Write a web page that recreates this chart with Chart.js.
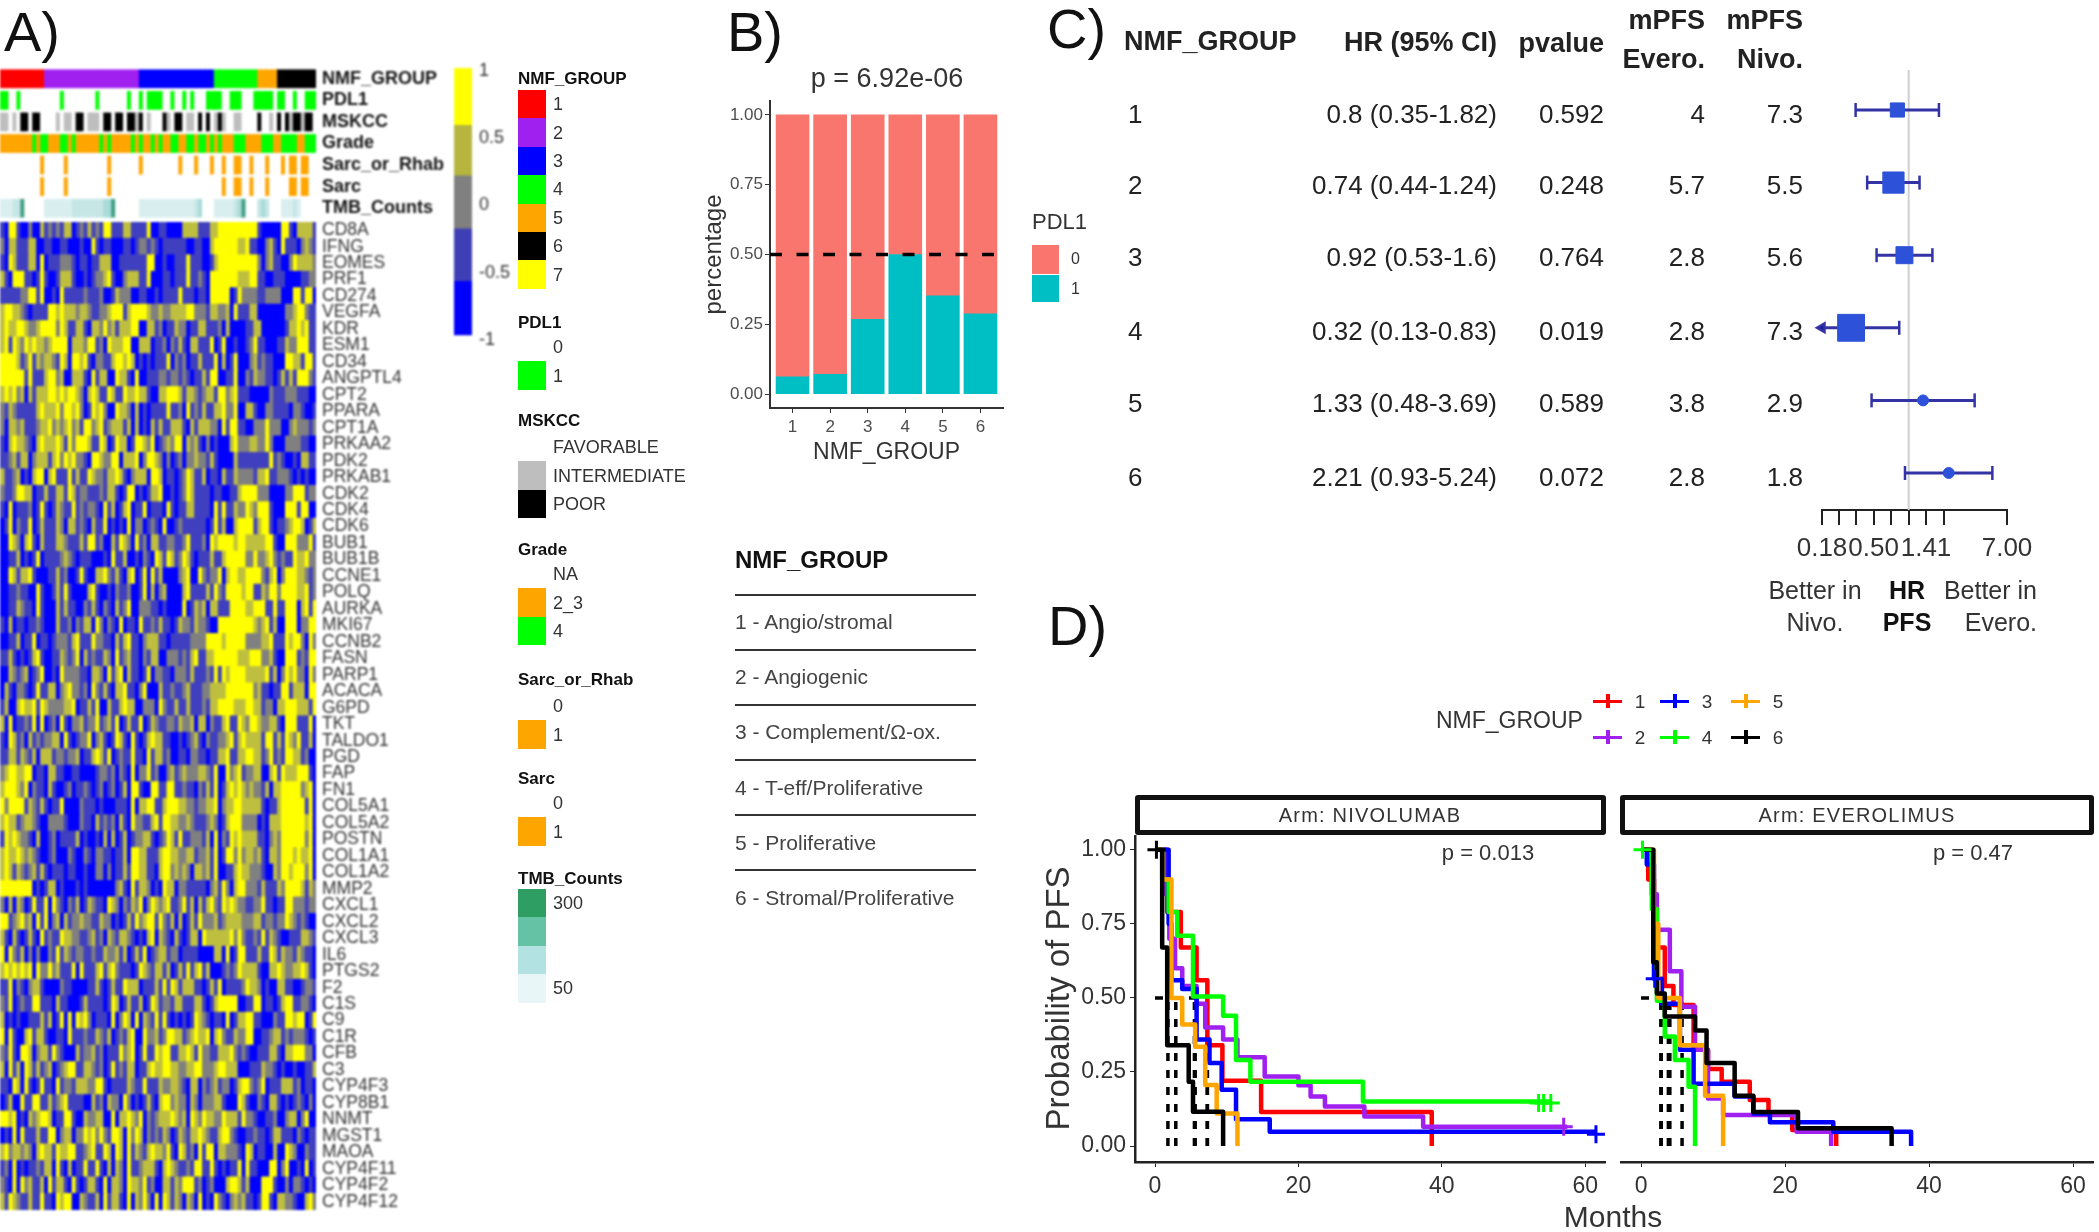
<!DOCTYPE html>
<html>
<head>
<meta charset="utf-8">
<title>NMF groups</title>
<script src="https://cdn.jsdelivr.net/npm/chart.js@4"></script>
<style>
  html, body { margin: 0; background: #fff; }
  #page { position: relative; width: 2099px; height: 1232px; overflow: hidden; font-family: "Liberation Sans", Arial, sans-serif; color: #222; filter: blur(0.6px); }
  #page canvas { position: absolute; }
  .t { position: absolute; white-space: nowrap; line-height: 1; }
  .box { position: absolute; }
  .blur { filter: blur(0.9px); }
</style>
</head>
<body>
<div id="page"></div>
<script>
// -------- PANEL A DATA --------
const genes = ["CD8A","IFNG","EOMES","PRF1","CD274","VEGFA","KDR","ESM1","CD34","ANGPTL4","CPT2","PPARA","CPT1A","PRKAA2","PDK2","PRKAB1","CDK2","CDK4","CDK6","BUB1","BUB1B","CCNE1","POLQ","AURKA","MKI67","CCNB2","FASN","PARP1","ACACA","G6PD","TKT","TALDO1","PGD","FAP","FN1","COL5A1","COL5A2","POSTN","COL1A1","COL1A2","MMP2","CXCL1","CXCL2","CXCL3","IL6","PTGS2","F2","C1S","C9","C1R","CFB","C3","CYP4F3","CYP8B1","NNMT","MGST1","MAOA","CYP4F11","CYP4F2","CYP4F12"];

// one string per gene, one digit per patient: 0=-1, 1=-0.5, 2=0, 3=0.5, 4=1
const heatRows = [
"1044100200 3121213301 2131214411 1331111400 1100003333 1113344444 4444410000 0441033331",
"2033111330 0110011000 1004101100 0110122121 0111111001 1003444444 3341100231 0411102321",
"1043111330 4011122210 1101133300 1111111440 0100111411 1001344444 4444420231 1002433332",
"3104441101 4100133310 0101223410 0233311400 0110111411 2104444444 3334411001 1100001122",
"1111122441 4001041111 1211120013 2220011001 0111141110 1104444401 4222211222 2000441440",
"3443321011 1144343332 3321122344 4134444322 3223333442 2213322304 1113300000 0022344211",
"3433443223 4444243113 3103324231 3334400331 2011322011 3311120300 0011330000 0013343411",
"3414324343 3234444033 3244120433 3440033301 1202131033 1114014001 0012411000 1132244411",
"4444312413 2332143044 3410221134 4343010101 1140212011 3111403014 0002312110 0044331441",
"4444441411 1344230033 3104133004 3310400111 2212212101 1314400114 0021322110 1313144421",
"3434230313 3344343443 2034311431 1433433100 3344431332 1233144234 1110000021 1122211100",
"2132111113 4333424434 2014342004 3320301011 1141120412 1311334224 0033100221 1110221001",
"2033231112 3342323423 1442341233 3130301031 3113331031 3332204144 1100222422 2002322212",
"1034332103 4333431424 4431143014 3301443240 1232440323 1020100034 2223322420 0022221100",
"1123133023 3313424342 2104432244 0333402443 2020120223 2213100003 1111111141 2100103311",
"3112301034 4034111413 1143221334 3102333044 3011012431 1301103113 2222133411 2221010100",
"2112443301 1311331431 2211121331 0144010133 4001012431 1110110011 3444422200 0022444122",
"1040111201 4101321141 2122104130 1340114011 1041011331 1110414113 2243244410 0044414400",
"0140211401 3111320331 2103114010 1040220121 0400121111 1101413003 4444134410 1123443013",
"0043203410 3111332111 3144120031 4320412033 1122112411 1204344443 4433333441 0044422241",
"0011301014 0111123210 1110001041 1300102104 3143124310 1113113444 4422422342 1211433422",
"0043133410 0011312001 4100334213 1034014041 3000023400 4212240344 3344442134 0244433212",
"0011211004 1001314100 0034100102 1120014030 2300003411 1131421444 4344113244 2444433412",
"0011321104 1000313110 0213102103 1240022211 0100004013 2303311144 4433444114 1144403414",
"1030110112 1000311202 1330420210 4011041121 3110132213 2210044444 4444323413 0044402244",
"0011301140 1101222134 1114221103 1341102333 1101111122 2244443444 4422223341 1143442042",
"1131010134 1001132124 0312113204 1231102133 0022212134 1133444444 3334442231 0044412144",
"0032123012 4001042222 1103320413 4031101402 2110222131 1121414344 4433333413 0243422042",
"0310221014 1133023422 1204213103 3411024000 3112112311 1223333444 4444231101 1441333044",
"1300343341 4322223340 1131400311 3433002220 4211311311 1213344443 3344331220 3344433314",
"3040112140 4012041022 3122412314 0131140132 1122132230 3302113411 4324432233 1044411140",
"1043120312 1223304101 2240231014 3104101343 3110010123 1021122341 3433331441 3143241130",
"1133132130 3331221223 0113431401 2114110413 3120011022 1101133411 3344331241 2144331200",
"2344334401 1033110011 0000122120 2104022412 0023123222 3321400423 4122330034 1433344410",
"3444324021 1031001201 1210120120 1304410044 1144112110 2131401343 4323221303 3444442340",
"4244441321 3101140000 2111010001 1104033441 1344433221 2233402334 4333331011 3444444140",
"3433123321 0022221000 2110312120 3104221134 1443322321 1123201344 4222201033 3444444340",
"1434322103 0012011113 0100103030 1301223310 1243141122 2130402143 4333311023 2444444240",
"3433432321 0012000210 0210221101 1304433111 3443322331 2231401442 4233231033 2444343340",
"3431321231 3101110110 0100220201 1314433110 3442323203 3231400113 4332221003 2443444240",
"4444444401 0133010001 0100000002 3104133201 0433022111 1102314203 4422213111 3244443132",
"2030320141 1404210213 0132110432 0213240243 2341124130 3134214343 2211224110 1144222122",
"4412342304 1402303122 3221132201 0131423441 4213030131 4222312333 3222331221 2243212100",
"3103101310 4121143322 1123120321 3321010340 3210310133 0433333342 4211214132 1001113321",
"4042130202 0021413212 2112113223 1301314012 3312201111 0000330401 4411131143 1322132110",
"3434343404 2242311140 4111341342 1110143213 3130131413 4130001212 4333310033 4322334310",
"1140210233 1000021100 0011310131 1433301113 1414313331 1013140111 1243320100 3311001221",
"2140121144 1110311000 1311110143 0131130143 1221331113 3101344444 0011440110 1344112210",
"3010100111 3130140404 3420111040 2430403214 1410101014 3210110401 3344110002 1144344014",
"4041003413 3100110411 1211321301 2134004223 1244331234 3340342113 2244001123 3121222101",
"2141044302 3314210003 1223120111 4234014114 3441133431 4221133342 1210011133 1033444220",
"3041304313 1230123441 1332120141 2133011343 3443322334 4222344333 0001113221 0100100113",
"1104304101 4110412213 3322441011 1132114111 3223321033 0212312201 3442124011 1333120110",
"0130041144 1131234111 1003120322 0420101310 3442322032 0222331000 4310021033 1010121020",
"4434010323 4430114410 0322330040 3343240212 3334323043 2433224333 1422100112 0023302400",
"0104041113 1144023302 2434242144 3042430212 1320132133 4321134421 0011211013 3111021011",
"3423323203 4331433441 1234114304 3041321343 3241043120 4144033222 1043011003 0043200211",
"1204010112 1330410301 1411410303 2041123331 0343211214 4114101011 4041100044 0240010401",
"2104042311 3041331041 0133104033 2043324120 0331324441 2012000344 3130004441 0020221010",
"3143211311 4110434400 3211304133 1040324204 0431320320 4010421023 2311014410 3322100342",
];
const heatColors = ["#0000ff", "#3f3fbf", "#808080", "#bfbf3f", "#ffff00"];

const annotRows = ["NMF_GROUP", "PDL1", "MSKCC", "Grade", "Sarc_or_Rhab", "Sarc", "TMB_Counts"];
const groupSizes = [11, 24, 19, 11, 5, 10];
const groupColors = ["#ff0000", "#a020f0", "#0000ff", "#00ff00", "#ffa500", "#000000"];
const pdl1Pos = [0,1,4,15,24,32,35,37,38,39,40,43,46,48,52,53,54,55,58,59,60,64,65,66,67,68,70,71,74,77,78,79];
const mskccPoor = [5,6,8,9,19,20,26,27,29,30,32,33,35,41,44,45,50,52,55,65,70,72,74,75,77,78];
const mskccInter = [0,1,3,14,16,17,22,23,24,34,37,42,47,48,54,56,59,60,68,73,76];
const gradeHigh = [8,10,11,15,16,18,25,27,33,35,38,40,43,44,47,48,50,51,53,55,59,60,61,66,67,68,71,72,73,74,77,78,79];
const sarcRhabPos = [10,16,27,35,45,49,53,56,59,60,63,67,71,73,74,76,77];
const sarcPos = [10,16,27,56,59,60,63,67,73,74,76,77];
const tmbCounts = [70,70,75,80,90,220,null,null,null,null,null,65,65,70,70,70,75,75,80,80,85,85,85,90,90,95,100,110,220,null,null,null,null,null,null,60,60,65,65,70,70,70,70,70,70,70,70,75,75,80,120,null,null,null,70,70,75,75,75,80,110,210,null,null,null,80,120,80,null,null,null,65,70,75,90,70,null,null,null,null];

const scaleEdges = [1.02, 0.6, 0.225, -0.17, -0.56, -0.963];
const scaleColors = ["#ffff00", "#b5b53f", "#808080", "#3f3fb5", "#0000ff"];
const scaleTicks = [1, 0.5, 0, -0.5, -1];

// -------- PANEL B DATA --------
const nmfLabels = [1, 2, 3, 4, 5, 6];
const pdl1One = [0.062, 0.071, 0.268, 0.5, 0.352, 0.287];
const pdl1Zero = [0.938, 0.929, 0.732, 0.5, 0.648, 0.713];
const groupNames = ["1 - Angio/stromal", "2 - Angiogenic", "3 - Complement/Ω-ox.", "4 - T-eff/Proliferative", "5 - Proliferative", "6 - Stromal/Proliferative"];

// -------- PANEL C DATA --------
const hrText = ["0.8 (0.35-1.82)", "0.74 (0.44-1.24)", "0.92 (0.53-1.6)", "0.32 (0.13-0.83)", "1.33 (0.48-3.69)", "2.21 (0.93-5.24)"];
const pvalues = ["0.592", "0.248", "0.764", "0.019", "0.589", "0.072"];
const hr = [0.8, 0.74, 0.92, 0.32, 1.33, 2.21];
const ciLow = [0.35, 0.44, 0.53, 0.13, 0.48, 0.93];
const ciHigh = [1.82, 1.24, 1.6, 0.83, 3.69, 5.24];
const mpfsEvero = [4, 5.7, 2.8, 2.8, 3.8, 2.8];
const mpfsNivo = [7.3, 5.5, 5.6, 7.3, 2.9, 1.8];
const hrTicks = [0.18, 0.25, 0.35, 0.5, 0.71, 1, 1.41, 2, 7];
const hrTickLabels = [0.18, 0.5, 1.41, 7];
const hrMarkSize = [10, 15, 12, 19, 5.5, 5.5];

// -------- PANEL D DATA --------
const nivoX = [
  [0, 1.7, 3.6, 5.8, 7.3, 9.4, 14.8, 38.6],
  [0, 1.5, 2, 2.8, 3.8, 5.8, 7, 9.5, 11.5, 15.3, 20, 21.7, 23.7, 29.2, 37.4, 57.5],
  [0, 1.9, 2.3, 3.8, 5.8, 7.6, 9.3, 11.3, 16, 61.5],
  [0, 1, 1.9, 3.1, 5.3, 9.5, 11.3, 13.3, 29, 55.2],
  [0, 1, 2.3, 3.8, 5.6, 7, 8.6, 11.5],
  [0, 1, 1.7, 4.7, 5.3, 9.5],
];
const nivoY = [
  [1, 0.79, 0.67, 0.56, 0.34, 0.22, 0.115, 0],
  [1, 0.85, 0.7, 0.6, 0.54, 0.48, 0.4, 0.36, 0.3, 0.235, 0.205, 0.167, 0.133, 0.1, 0.065, 0.065],
  [1, 0.75, 0.56, 0.53, 0.36, 0.28, 0.19, 0.09, 0.048, 0.048],
  [1, 0.9, 0.79, 0.71, 0.505, 0.44, 0.29, 0.217, 0.15, 0.15],
  [1, 0.9, 0.5, 0.41, 0.335, 0.206, 0.11, 0],
  [1, 0.67, 0.34, 0.217, 0.116, 0],
];
const everoX = [
  [0, 1, 1.8, 3.3, 4.5, 7.3, 9.3, 11.2, 15.1, 17.7, 21, 27.1],
  [0, 1.5, 2.2, 4, 5.6, 7.5, 9.3, 11.4, 21.6, 26.4],
  [0, 0.8, 1.8, 2.9, 5.4, 7.3, 13, 15.6, 17.9, 26.7, 37.5],
  [0, 1.5, 2.2, 3.3, 4.7, 6.6, 7.5],
  [0, 1.8, 2.4, 5.4, 8.9, 11.4],
  [0, 1.7, 2.2, 3.3, 7.5, 9.1, 13, 15.6, 21.8, 34.8],
];
const everoY = [
  [1, 0.9, 0.67, 0.54, 0.476, 0.325, 0.26, 0.217, 0.155, 0.11, 0.054, 0],
  [1, 0.85, 0.73, 0.59, 0.47, 0.325, 0.16, 0.105, 0.048, 0],
  [1, 0.95, 0.565, 0.48, 0.325, 0.21, 0.167, 0.11, 0.08, 0.048, 0],
  [1, 0.8, 0.49, 0.37, 0.29, 0.2, 0],
  [1, 0.75, 0.5, 0.34, 0.17, 0],
  [1, 0.62, 0.515, 0.437, 0.39, 0.28, 0.17, 0.115, 0.06, 0],
];
// censored patients: x, y, group index
const nivoCensX = [0.2, 53.5, 54.2, 55.2, 57, 61.5];
const nivoCensY = [1, 0.145, 0.145, 0.145, 0.065, 0.04];
const nivoCensG = [5, 3, 3, 3, 1, 2];
const everoCensX = [0.2, 1.9];
const everoCensY = [1, 0.565];
const everoCensG = [3, 2];
const kmYTicks = [0, 0.25, 0.5, 0.75, 1];
const kmXTicks = [0, 20, 40, 60];

// -------- HELPERS --------
const page = document.getElementById("page");
Chart.defaults.font.family = '"Liberation Sans", Arial, sans-serif';
Chart.defaults.animation = false;
Chart.defaults.responsive = false;
Chart.defaults.devicePixelRatio = 1;
Chart.defaults.layout.autoPadding = false;
Chart.defaults.plugins.legend.display = false;
Chart.defaults.plugins.tooltip.enabled = false;

function placeCanvas(x, y, w, h, cls) {
  const c = document.createElement("canvas");
  c.width = w;
  c.height = h;
  c.style.left = x + "px";
  c.style.top = y + "px";
  c.style.width = w + "px";
  c.style.height = h + "px";
  if (cls) c.className = cls;
  page.appendChild(c);
  return c.getContext("2d");
}

function txt(x, y, s, size, opts = {}) {
  const d = document.createElement("div");
  d.className = "t";
  d.textContent = s;
  d.style.fontSize = size + "px";
  d.style.top = y + "px";
  d.style.color = opts.color || "#222";
  if (opts.bold) d.style.fontWeight = "bold";
  if (opts.spacing) d.style.letterSpacing = opts.spacing + "px";
  let tx = "0";
  if (opts.align === "r") tx = "-100%";
  if (opts.align === "c") tx = "-50%";
  d.style.left = x + "px";
  d.style.transform = `translate(${tx}, -50%)`;
  page.appendChild(d);
}

function box(x, y, w, h, css) {
  const d = document.createElement("div");
  d.className = "box";
  d.style.left = x + "px";
  d.style.top = y + "px";
  d.style.width = w + "px";
  d.style.height = h + "px";
  Object.assign(d.style, css);
  page.appendChild(d);
  return d;
}

function hideGrid() {
  return { display: false, drawTicks: false };
}

// fixed axis box, and no room kept for half tick labels
function fixAxis(prop, size) {
  return (s) => {
    s[prop] = size;
    s.paddingTop = 0;
    s.paddingBottom = 0;
    s.paddingLeft = 0;
    s.paddingRight = 0;
  };
}

function tmbColor(v) {
  if (v === null) return "#ffffff";
  if (v < 80) return "#d9efef";
  if (v < 100) return "#c6e6e6";
  if (v < 130) return "#a9dcd8";
  if (v < 240) return "#3f9f80";
  return "#238b6a";
}

// -------- PANEL A --------
const nPatients = 80;
const patientGroup = [];
groupSizes.forEach((n, g) => { for (let i = 0; i < n; i++) patientGroup.push(g); });

function annotColor(row, p) {
  if (row === 0) return groupColors[patientGroup[p]];
  if (row === 1) return pdl1Pos.includes(p) ? "#00ff00" : "#ffffff";
  if (row === 2) {
    if (mskccPoor.includes(p)) return "#000000";
    return mskccInter.includes(p) ? "#bebebe" : "#ffffff";
  }
  if (row === 3) return gradeHigh.includes(p) ? "#00ff00" : "#ffa500";
  if (row === 4) return sarcRhabPos.includes(p) ? "#ffa500" : "#ffffff";
  if (row === 5) return sarcPos.includes(p) ? "#ffa500" : "#ffffff";
  return tmbColor(tmbCounts[p]);
}

function stripChart(ctx, labels, colorOf, tickFont, tickColor, barPct) {
  const datasets = [];
  for (let p = 0; p < nPatients; p++) {
    datasets.push({
      data: labels.map(() => 1),
      backgroundColor: labels.map((_, r) => colorOf(r, p)),
      barPercentage: barPct,
      categoryPercentage: 1,
      inflateAmount: 0.6,
    });
  }
  return new Chart(ctx, {
    type: "bar",
    data: { labels, datasets },
    options: {
      indexAxis: "y",
      scales: {
        x: { type: "linear", stacked: true, min: 0, max: nPatients, display: false },
        y: {
          position: "right",
          stacked: true,
          grid: hideGrid(),
          border: { display: false },
          ticks: { autoSkip: false, font: tickFont, color: tickColor, padding: 6 },
          afterFit: fixAxis("width", 154),
        },
      },
    },
  });
}

stripChart(placeCanvas(0, 68, 470, 151, "blur"), annotRows, annotColor, { size: 18, weight: "bold" }, "#111", 0.81);
stripChart(placeCanvas(0, 222, 470, 988, "blur"), genes,
  (r, p) => heatColors[+heatRows[r].replace(/ /g, "")[p] || 0], { size: 17.5 }, "#333", 1);

// colour scale
new Chart(placeCanvas(454, 58, 70, 294, "blur"), {
  type: "bar",
  data: {
    labels: [""],
    datasets: scaleColors.map((c, i) => ({
      data: [[scaleEdges[i + 1], scaleEdges[i]]],
      backgroundColor: c,
      barPercentage: 1,
      categoryPercentage: 1,
      grouped: false,
    })),
  },
  options: {
    layout: { padding: { top: 10, bottom: 12 } },
    scales: {
      x: { display: false },
      y: {
        position: "right",
        min: -1,
        max: 1.02,
        grid: hideGrid(),
        border: { display: false },
        afterBuildTicks: (s) => { s.ticks = scaleTicks.map((v) => ({ value: v })); },
        ticks: { color: "#333", font: { size: 18 }, padding: 7, callback: (v) => String(v) },
        afterFit: fixAxis("width", 52),
      },
    },
  },
});

// discrete legends of the heatmap
function legendBlock(titleY, title, top, colors, labels, labelX = 553) {
  txt(518, titleY, title, 17, { bold: true, color: "#111" });
  colors.forEach((c, i) => {
    const y = top + i * 28.4;
    if (c) box(518, y, 28, 28.4, { background: c });
    if (labels[i]) txt(labelX, y + 14.2, labels[i], 18, { color: "#333" });
  });
}
legendBlock(78, "NMF_GROUP", 90, ["#ff0000", "#a020f0", "#0000ff", "#00ff00", "#ffa500", "#000000", "#ffff00"], ["1", "2", "3", "4", "5", "6", "7"]);
legendBlock(322, "PDL1", 333, [null, "#00ff00"], ["0", "1"]);
legendBlock(420, "MSKCC", 433, [null, "#bebebe", "#000000"], ["FAVORABLE", "INTERMEDIATE", "POOR"]);
legendBlock(549, "Grade", 560, [null, "#ffa500", "#00ff00"], ["NA", "2_3", "4"]);
legendBlock(679, "Sarc_or_Rhab", 692, [null, "#ffa500"], ["0", "1"]);
legendBlock(778, "Sarc", 789, [null, "#ffa500"], ["0", "1"]);
legendBlock(878, "TMB_Counts", 889, ["#2e9e62", "#66c2a4", "#b2e2e2", "#e8f6f8"], ["300", "", "", "50"]);

// -------- PANEL B --------
new Chart(placeCanvas(700, 60, 320, 410), {
  type: "bar",
  data: {
    datasets: [
      {
        type: "line",
        data: [{ x: 0.4, y: 0.5 }, { x: 6.6, y: 0.5 }],
        borderColor: "#000",
        borderWidth: 3.5,
        borderDash: [12, 14.5],
        pointRadius: 0,
        order: 0,
      },
      { data: nmfLabels.map((g, i) => ({ x: g, y: pdl1One[i] })), backgroundColor: "#00bfc4", barThickness: 33, order: 1 },
      { data: nmfLabels.map((g, i) => ({ x: g, y: pdl1Zero[i] })), backgroundColor: "#f8766d", barThickness: 33, order: 1 },
    ],
  },
  options: {
    layout: { padding: { top: 41, right: 17 } },
    scales: {
      x: {
        type: "linear",
        stacked: true,
        offset: false,
        min: 0.4,
        max: 6.6,
        grid: { drawOnChartArea: false, tickLength: 5, color: "#333", offset: false },
        border: { color: "#333", width: 2 },
        afterBuildTicks: (s) => { s.ticks = nmfLabels.map((v) => ({ value: v })); },
        ticks: { color: "#4d4d4d", font: { size: 17 }, maxRotation: 0, padding: 4 },
        title: { display: true, text: "NMF_GROUP", color: "#333", font: { size: 23 }, padding: { top: 2, bottom: 4 } },
        afterFit: fixAxis("height", 62),
      },
      y: {
        stacked: true,
        min: -0.05,
        max: 1.05,
        grid: { drawOnChartArea: false, tickLength: 5, color: "#333" },
        border: { color: "#333", width: 2 },
        afterBuildTicks: (s) => { s.ticks = [0, 0.25, 0.5, 0.75, 1].map((v) => ({ value: v })); },
        ticks: { color: "#4d4d4d", font: { size: 17 }, padding: 2, callback: (v) => v.toFixed(2) },
        title: { display: true, text: "percentage", color: "#333", font: { size: 24 }, padding: 0 },
        afterFit: fixAxis("width", 70),
      },
    },
  },
});

txt(887, 78, "p = 6.92e-06", 27, { align: "c", color: "#333" });
txt(1032, 222, "PDL1", 22, { color: "#333" });
box(1032, 245, 27, 29, { background: "#f8766d" });
box(1032, 275, 27, 27, { background: "#00bfc4" });
txt(1071, 259, "0", 16, { color: "#333" });
txt(1071, 289, "1", 16, { color: "#333" });

// names of the groups
txt(735, 560, "NMF_GROUP", 24, { bold: true, color: "#111" });
groupNames.forEach((name, i) => {
  box(735, 594 + i * 55, 241, 1.5, { background: "#333" });
  txt(735, 621 + i * 55.2, name, 21, { color: "#444" });
});

// -------- PANEL C --------
const rowY = [114, 185, 257, 331, 403, 477];
txt(1124, 41, "NMF_GROUP", 27, { bold: true });
txt(1497, 42, "HR (95% CI)", 27, { bold: true, align: "r" });
txt(1604, 43, "pvalue", 27, { bold: true, align: "r" });
txt(1705, 20, "mPFS", 27, { bold: true, align: "r" });
txt(1705, 59, "Evero.", 27, { bold: true, align: "r" });
txt(1803, 20, "mPFS", 27, { bold: true, align: "r" });
txt(1803, 59, "Nivo.", 27, { bold: true, align: "r" });
nmfLabels.forEach((g, i) => {
  txt(1128, rowY[i], String(g), 26);
  txt(1497, rowY[i], hrText[i], 26, { align: "r" });
  txt(1604, rowY[i], pvalues[i], 26, { align: "r" });
  txt(1705, rowY[i], String(mpfsEvero[i]), 26, { align: "r" });
  txt(1803, rowY[i], String(mpfsNivo[i]), 26, { align: "r" });
});

const hrMin = 0.18;
const ciDatasets = nmfLabels.map((g, i) => {
  const clipped = ciLow[i] < hrMin;
  return {
    type: "line",
    data: [{ x: Math.max(ciLow[i], hrMin), y: g }, { x: ciHigh[i], y: g }],
    borderColor: "#3333a5",
    borderWidth: 3,
    pointBorderColor: "#3333a5",
    pointBackgroundColor: "#1a1a9c",
    pointBorderWidth: 2.5,
    pointStyle: clipped ? ["triangle", "line"] : "line",
    pointRotation: clipped ? [-90, 90] : 90,
    pointRadius: clipped ? [5, 7] : 7,
    clip: false,
    order: 2,
  };
});

new Chart(placeCanvas(1790, 60, 260, 515), {
  type: "scatter",
  data: {
    datasets: [
      {
        type: "line",
        data: [{ x: 1, y: 0.449 }, { x: 1, y: 6.51 }],
        borderColor: "#cfcfcf",
        borderWidth: 2,
        pointRadius: 0,
        order: 5,
      },
      ...ciDatasets,
      {
        data: nmfLabels.map((g, i) => ({ x: hr[i], y: g })),
        backgroundColor: "#2d52d9",
        borderColor: "#2d52d9",
        pointStyle: hrMarkSize.map((r) => (r > 6 ? "rect" : "circle")),
        pointRadius: hrMarkSize,
        order: 1,
      },
    ],
  },
  options: {
    layout: { padding: { left: 32, right: 43, top: 10 } },
    scales: {
      x: {
        type: "logarithmic",
        min: hrMin,
        max: 7,
        grid: { drawOnChartArea: false, tickLength: 15, color: "#222", lineWidth: 2 },
        border: { color: "#222", width: 2 },
        afterBuildTicks: (s) => { s.ticks = hrTicks.map((v) => ({ value: v })); },
        ticks: {
          autoSkip: false,
          maxRotation: 0,
          color: "#333",
          font: { size: 26 },
          padding: 8,
          callback: (v) => (hrTickLabels.includes(v) ? v.toFixed(2) : ""),
        },
        afterFit: fixAxis("height", 65),
      },
      y: { type: "linear", reverse: true, min: 0.449, max: 6.51, display: false },
    },
  },
});

txt(1815, 590, "Better in", 25, { align: "c", color: "#333" });
txt(1815, 622, "Nivo.", 25, { align: "c", color: "#333" });
txt(1907, 590, "HR", 25, { align: "c", bold: true, color: "#111" });
txt(1907, 622, "PFS", 25, { align: "c", bold: true, color: "#111" });
txt(2037, 590, "Better in", 25, { align: "r", color: "#333" });
txt(2037, 622, "Evero.", 25, { align: "r", color: "#333" });

// -------- PANEL D --------
function kmDatasets(xs, ys, medians, censX, censY, censG) {
  const sets = [];
  medians.forEach((m) => {
    sets.push({
      type: "line",
      data: [{ x: m, y: 0 }, { x: m, y: 0.5 }],
      borderColor: "#000",
      borderWidth: 3.5,
      borderDash: [8, 9],
      pointRadius: 0,
      order: 20,
    });
  });
  sets.push({
    type: "line",
    data: [{ x: 0, y: 0.5 }, { x: Math.max(...medians), y: 0.5 }],
    borderColor: "#000",
    borderWidth: 3.5,
    borderDash: [8, 9],
    pointRadius: 0,
    order: 20,
  });
  xs.forEach((arr, g) => {
    sets.push({
      type: "line",
      data: arr.map((x, i) => ({ x, y: ys[g][i] })),
      borderColor: groupColors[g],
      borderWidth: 4.5,
      stepped: true,
      borderJoinStyle: "round",
      pointRadius: 0,
      order: 10 - g,
    });
  });
  sets.push({
    type: "scatter",
    data: censX.map((x, i) => ({ x, y: censY[i] })),
    pointStyle: "cross",
    pointRadius: 9,
    pointBorderWidth: 3,
    pointBorderColor: censG.map((g) => groupColors[g]),
    order: 1,
  });
  return sets;
}

function kmChart(ctx, xs, ys, medians, censX, censY, censG, xMin, xMax, showY) {
  return new Chart(ctx, {
    type: "scatter",
    data: { datasets: kmDatasets(xs, ys, medians, censX, censY, censG) },
    options: {
      scales: {
        x: {
          type: "linear",
          min: xMin,
          max: xMax,
          grid: { drawOnChartArea: false, tickLength: 5, color: "#222" },
          border: { color: "#222", width: 2.5 },
          afterBuildTicks: (s) => { s.ticks = kmXTicks.map((v) => ({ value: v })); },
          ticks: { color: "#333", font: { size: 23 }, maxRotation: 0, padding: 6 },
          afterFit: fixAxis("height", 50),
        },
        y: {
          display: showY,
          min: -0.054,
          max: 1.05,
          grid: { drawOnChartArea: false, tickLength: 5, color: "#222" },
          border: { color: "#222", width: 2.5 },
          afterBuildTicks: (s) => { s.ticks = kmYTicks.map((v) => ({ value: v })); },
          ticks: { color: "#333", font: { size: 23 }, padding: 4, callback: (v) => v.toFixed(2) },
          title: { display: true, text: "Probability of PFS", color: "#333", font: { size: 33 }, padding: 0 },
          afterFit: fixAxis("width", showY ? 95 : 0),
        },
      },
    },
  });
}

kmChart(placeCanvas(1040, 835, 566, 377), nivoX, nivoY, mpfsNivo, nivoCensX, nivoCensY, nivoCensG, -2.79, 62.9, true);
kmChart(placeCanvas(1620, 835, 474, 377), everoX, everoY, mpfsEvero, everoCensX, everoCensY, everoCensG, -2.92, 62.9, false);

const strip = { border: "5px solid #111", boxSizing: "border-box", borderRadius: "3px" };
box(1135, 795, 471, 40, strip);
box(1620, 795, 474, 40, strip);
txt(1370, 815, "Arm: NIVOLUMAB", 20, { align: "c", color: "#333", spacing: 1.2 });
txt(1857, 815, "Arm: EVEROLIMUS", 20, { align: "c", color: "#333", spacing: 1.2 });
txt(1488, 853, "p = 0.013", 22, { align: "c", color: "#333" });
txt(1973, 853, "p = 0.47", 22, { align: "c", color: "#333" });
txt(1613, 1217, "Months", 30, { align: "c", color: "#333" });

// legend of the curves
txt(1436, 720, "NMF_GROUP", 23, { color: "#333" });
const keyX = [1593, 1593, 1660, 1660, 1731, 1731];
const keyY = [701, 737, 701, 737, 701, 737];
const keyOrder = [0, 1, 2, 3, 4, 5];
keyOrder.forEach((g, i) => {
  box(keyX[i], keyY[i] - 1.5, 29, 3.5, { background: groupColors[g] });
  box(keyX[i] + 13, keyY[i] - 7, 3.5, 14, { background: groupColors[g] });
  txt(keyX[i] + 47, keyY[i], String(g + 1), 19, { align: "c", color: "#333" });
});

// panel letters
txt(4, 32, "A)", 56, { color: "#111" });
txt(727, 32, "B)", 56, { color: "#111" });
txt(1047, 29, "C)", 56, { color: "#111" });
txt(1048, 626, "D)", 56, { color: "#111" });
</script>
</body>
</html>
